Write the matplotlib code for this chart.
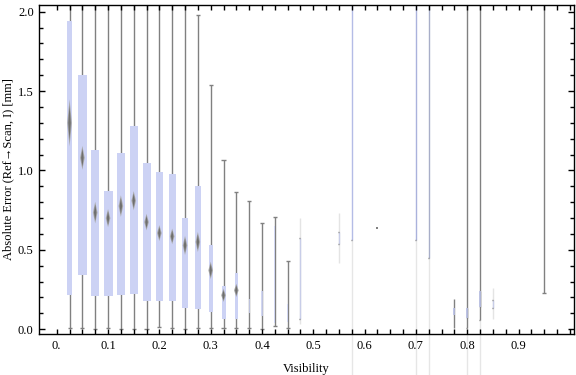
import matplotlib
matplotlib.use('Agg')
import matplotlib.pyplot as plt
import numpy as np

plt.rcParams['font.family'] = ['Liberation Serif', 'DejaVu Serif']

# regular box-whisker entries (visibility bins of width 0.025)
pos = [0.025, 0.05, 0.075, 0.1, 0.125, 0.15, 0.175, 0.2, 0.225, 0.25,
       0.275, 0.3, 0.325, 0.35, 0.375, 0.4, 0.425, 0.45]
w_lo = [0.006, 0.006, 0.0, 0.005, 0.0, 0.003, 0.0, 0.012, 0.005, 0.0,
        0.005, 0.006, 0.006, 0.006, 0.01, 0.003, 0.02, 0.008]
q1 = [0.214, 0.34, 0.207, 0.207, 0.214, 0.22, 0.18, 0.178, 0.178, 0.134,
      0.126, 0.109, 0.065, 0.065, 0.10, 0.082, 0.04, 0.046]
med = [1.30, 1.08, 0.735, 0.70, 0.776, 0.81, 0.675, 0.606, 0.585, 0.528,
       0.55, 0.371, 0.214, 0.245, np.nan, np.nan, np.nan, np.nan]
q3 = [1.94, 1.60, 1.126, 0.868, 1.113, 1.283, 1.05, 0.99, 0.98, 0.70,
      0.90, 0.528, 0.27, 0.357, 0.19, 0.24, 0.65, 0.157]
w_hi = [2.3, 2.3, 2.3, 2.3, 2.3, 2.3, 2.3, 2.3, 2.3, 2.3,
        1.977, 1.54, 1.067, 0.866, 0.81, 0.67, 0.709, 0.428]
box_w = [0.0103, 0.0175, 0.0162, 0.0175, 0.0156, 0.0156, 0.0156, 0.0142, 0.0136, 0.0117,
         0.0111, 0.0084, 0.0078, 0.0058, 0.002, 0.002, 0.0015, 0.0015]
notch = [0.148, 0.075, 0.068, 0.057, 0.068, 0.06, 0.052, 0.05, 0.049, 0.06,
         0.063, 0.055, 0.042, 0.042, 0, 0, 0, 0]

# sparse bins drawn with faint whiskers and two caps
faint_pos = [0.475, 0.55, 0.85]
faint_lo = [0.03, 0.417, 0.063]
faint_hi = [0.70, 0.734, 0.259]
cap_lo = [0.063, 0.539, 0.136]
cap_hi = [0.577, 0.614, 0.187]

# bins whose whisker runs off the top of the plot
tall_pos = [0.575, 0.7, 0.725, 0.8, 0.825, 0.95]
tall_lo = [0.564, 0.564, 0.45, 0.008, 0.061, 0.23]
tall_col = ['#b4bce6', '#aab2dc', '#a8aec8', '#808080', '#808080', '#808080']
tall_tail = [True, True, True, True, True, False]

# short bins near the bottom
short_pos = [0.775, 0.8, 0.825]
short_lo = [0.008, 0.069, 0.14]
short_hi = [0.189, 0.132, 0.239]
short_box_lo = [0.088, 0.069, 0.14]
short_box_hi = [0.132, 0.132, 0.239]

single_pos = [0.625]
single_val = [0.635]

box_col = '#ccd2f4'
line_col = '#808080'
cap = 0.004

fig = plt.figure(figsize=(5.76, 3.75), dpi=100)
ax = fig.add_axes([0.0682, 0.1093, 0.9283, 0.878])

# whiskers and caps
ax.vlines(pos, w_lo, w_hi, color=line_col, lw=1.0, zorder=1)
ax.hlines(w_lo, np.array(pos) - cap, np.array(pos) + cap, color=line_col, lw=1.0, zorder=1)
for p, h in zip(pos, w_hi):
    if h < 2.04:
        ax.hlines(h, p - cap, p + cap, color=line_col, lw=1.0, zorder=1)

# boxes
for p, a, b, w in zip(pos, q1, q3, box_w):
    ax.bar(p, b - a, bottom=a, width=w, color=box_col, alpha=1.0 if w > 0.004 else 0.8,
           lw=0, zorder=2)

# median diamonds
dw = 0.0045
for p, m, n in zip(pos, med, notch):
    if np.isnan(m):
        continue
    ax.fill([p - dw, p, p + dw, p], [m, m + n, m, m - n], color='#a9a9a9', lw=0, zorder=3)
    ax.fill([p - dw * 0.55, p, p + dw * 0.55, p], [m, m + n * 0.75, m, m - n * 0.75],
            color='#6f6f6f', lw=0, zorder=4)

# faint sparse bins
ax.vlines(faint_pos, faint_lo, faint_hi, color='#e4e4e4', lw=1.0, zorder=1)
ax.vlines(faint_pos, cap_lo, cap_hi, color='#c8cde8', lw=1.0, zorder=1)
ax.hlines(cap_lo, np.array(faint_pos) - cap * 0.6, faint_pos, color=line_col, lw=1.0, zorder=2)
ax.hlines(cap_hi, np.array(faint_pos) - cap * 0.6, faint_pos, color=line_col, lw=1.0, zorder=2)

# tall bins
for p, lo, c, t in zip(tall_pos, tall_lo, tall_col, tall_tail):
    ax.vlines(p, lo, 2.3, color=c, lw=1.0, zorder=1)
    ax.hlines(lo, p - cap * (1.0 if p > 0.9 else 0.5), p + cap * (1.0 if p > 0.9 else 0.1),
              color=line_col, lw=1.0, zorder=2)
    if t:
        ax.vlines(p, -0.3, lo, color='#e6e6e6', lw=1.0, zorder=0, clip_on=False)

# short bins
ax.vlines(short_pos, short_lo, short_hi, color=line_col, lw=1.0, zorder=1)
ax.vlines(short_pos, short_box_lo, short_box_hi, color='#b8bfe6', lw=1.2, zorder=2)

ax.scatter(single_pos, single_val, marker='s', s=4.5, color=line_col, lw=0, zorder=3)

ax.set_xlim(-0.034, 1.008)
ax.set_ylim(-0.03, 2.044)

ax.set_xticks(np.arange(0, 1.0, 0.1))
ax.set_xticklabels(['0.'] + ['%.1f' % v for v in np.arange(0.1, 1.0, 0.1)])
ax.set_xticks(np.arange(0, 1.001, 0.025), minor=True)
ax.set_yticks([0, 0.5, 1.0, 1.5, 2.0])
ax.set_yticklabels(['0.0', '0.5', '1.0', '1.5', '2.0'])
ax.set_yticks(np.arange(0, 2.01, 0.1), minor=True)

ax.tick_params(which='both', direction='in', top=True, right=True, labelsize=9, width=1.0)
ax.tick_params(which='major', length=4, pad=4)
ax.tick_params(which='minor', length=3)
ax.tick_params(axis='x', which='both', length=3.5)
for s in ax.spines.values():
    s.set_linewidth(1.0)

ax.set_xlabel('Visibility', fontsize=9, labelpad=8)
ax.set_ylabel('Absolute Error (Ref\u2192Scan, I) [mm]', fontsize=9, labelpad=3)

plt.savefig('out.png', dpi=100)
